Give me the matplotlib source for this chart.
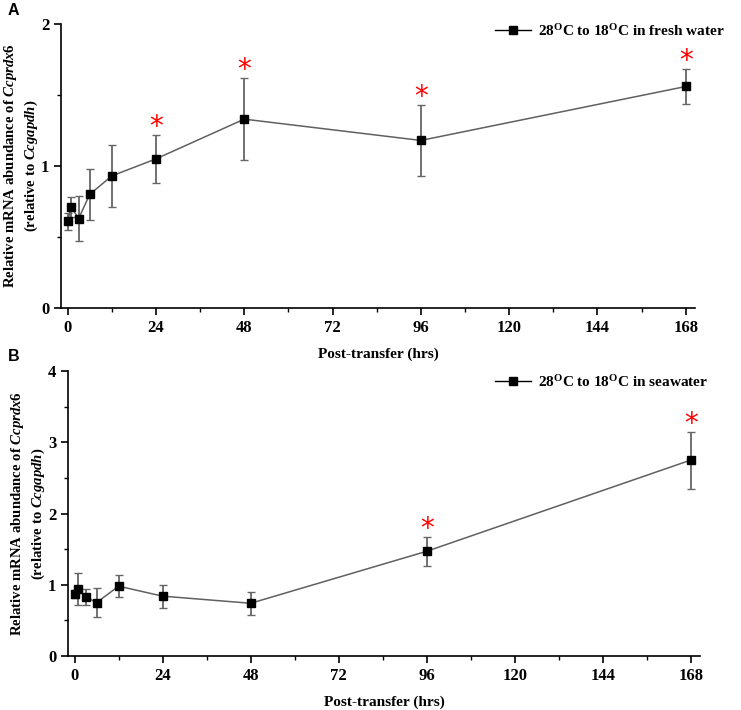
import matplotlib
matplotlib.use("Agg")
import matplotlib.pyplot as plt
import matplotlib.transforms as mtrans
from matplotlib.ticker import MultipleLocator

plt.rcParams['font.family'] = ['Liberation Serif', 'DejaVu Serif']
plt.rcParams['font.weight'] = 'bold'
plt.rcParams['mathtext.fontset'] = 'custom'
plt.rcParams['mathtext.rm'] = 'Liberation Serif:bold'
plt.rcParams['mathtext.bf'] = 'Liberation Serif:bold'
plt.rcParams['mathtext.it'] = 'Liberation Serif:italic:bold'

# ---- data ----
hours = [0, 1, 3, 6, 12, 24, 48, 96, 168]
fresh_mean = [0.61, 0.71, 0.63, 0.80, 0.93, 1.05, 1.33, 1.18, 1.56]
fresh_err = [0.06, 0.07, 0.16, 0.18, 0.22, 0.17, 0.29, 0.25, 0.125]
fresh_sig = [False, False, False, False, False, True, True, True, True]
sea_mean = [0.87, 0.94, 0.83, 0.75, 0.98, 0.84, 0.74, 1.47, 2.75]
sea_err = [0.05, 0.22, 0.11, 0.20, 0.15, 0.16, 0.16, 0.20, 0.40]
sea_sig = [False, False, False, False, False, False, False, True, True]
xticks = [0, 24, 48, 72, 96, 120, 144, 168]
legend_fresh = r"28$^{\mathbf{O}}$C to 18$^{\mathbf{O}}$C in fresh water"
legend_sea = r"28$^{\mathbf{O}}$C to 18$^{\mathbf{O}}$C in seawater"
ylabel = "Relative mRNA abundance of $\\mathit{Ccprdx6}$\n(relative to $\\mathit{Ccgapdh}$)"

fig = plt.figure(figsize=(7.41, 7.10), dpi=100)
W, H = 741, 710


def panel(rect, mean, err, sig, ymax, legtxt, leg_anchor, letter, letter_y):
    ax = fig.add_axes(rect)
    ax.errorbar(hours, mean, yerr=err, fmt='none', ecolor='#666666',
                elinewidth=1.3, capsize=3.2, capthick=1.0, zorder=2)
    ax.plot(hours, mean, '-', color='#606060', lw=1.1, zorder=3)
    ax.plot(hours, mean, 's', color='black', ms=6.3, zorder=4)
    # legend handle
    h, = ax.plot([], [], '-s', color='black', ms=6, lw=1.0)
    ax.legend([h], [legtxt], loc='upper left', bbox_to_anchor=leg_anchor,
              bbox_transform=fig.transFigure, frameon=False, borderpad=0,
              handlelength=2.4, handletextpad=0.45,
              prop={'family': 'Liberation Serif', 'weight': 'bold', 'size': 11})
    # significance stars
    off = mtrans.offset_copy(ax.transData, fig=fig, x=0, y=5.5, units='points')
    for x, m, e, s in zip(hours, mean, err, sig):
        if s:
            ax.text(x, m + e, '*', transform=off, color='red', ha='center',
                    va='center', fontsize=20, family='DejaVu Sans',
                    fontweight='normal')
    ax.set_xlim(-1.8, 170.5)
    ax.set_ylim(0, ymax)
    ax.set_xticks(xticks)
    ax.xaxis.set_minor_locator(MultipleLocator(12))
    ax.yaxis.set_major_locator(MultipleLocator(1))
    ax.yaxis.set_minor_locator(MultipleLocator(0.5))
    for sp in ['top', 'right']:
        ax.spines[sp].set_visible(False)
    for sp in ['left', 'bottom']:
        ax.spines[sp].set_linewidth(1.2)
    ax.tick_params(which='major', direction='out', length=5, width=1.2,
                   labelsize=12)
    ax.tick_params(which='minor', direction='out', length=3, width=1.0)
    for lab in ax.get_xticklabels() + ax.get_yticklabels():
        lab.set_fontweight('bold')
    ax.set_xlabel('Post-transfer (hrs)', fontsize=11, fontweight='bold',
                  labelpad=8.5)
    ax.set_ylabel(ylabel, fontsize=10.6, fontweight='bold',
                  linespacing=1.35)
    ax.yaxis.set_label_coords(-20.5 / (rect[2] * W), 0.5)
    fig.text(8 / W, 1 - letter_y / H, letter, family='Liberation Sans',
             fontweight='bold', fontsize=11.5, va='top', ha='left')
    return ax


panel([61 / W, 1 - 308 / H, (695 - 61) / W, (308 - 24) / H],
      fresh_mean, fresh_err, fresh_sig, 2, legend_fresh,
      (487 / W, 1 - 15 / H), 'A', 3)
panel([68 / W, 1 - 656 / H, (700 - 68) / W, (656 - 371) / H],
      sea_mean, sea_err, sea_sig, 4, legend_sea,
      (487 / W, 1 - 366 / H), 'B', 349)

fig.savefig('out.png', dpi=100)
